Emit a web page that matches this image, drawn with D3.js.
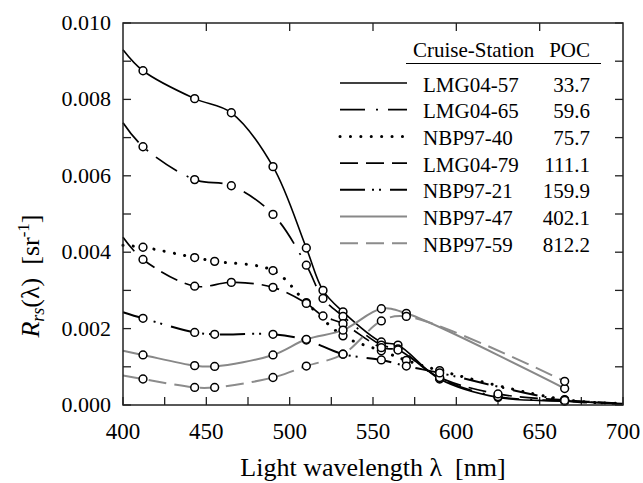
<!DOCTYPE html>
<html><head><meta charset="utf-8">
<script src="https://cdn.jsdelivr.net/npm/d3@7"></script>
<style>
body{margin:0;background:#fff}
</style>
</head><body>
<svg id="chart" width="643" height="483" font-family="'Liberation Serif', 'Times New Roman', Times, serif"></svg>
<script>
// ---------------- DATA ----------------
const stations = ["LMG04-57","LMG04-65","NBP97-40","LMG04-79","NBP97-21","NBP97-47","NBP97-59"];
const poc = ["33.7","59.6","75.7","111.1","159.9","402.1","812.2"];

const wlLMG  = [400,412,443,465,490,510,520,532,555,565,590,625,665,700];
const wlNBP  = [400,412,443,455,490,510,532,555,570,590,665,700];
const wlNBPg = [400,412,443,455,490,510,532,555,570,665];

const rsLMG04_57 = [0.00930,0.00875,0.00802,0.00765,0.00624,0.00411,0.00300,0.00244,0.00165,0.00157,0.00068,0.00020,0.00010,0.00003];
const rsLMG04_65 = [0.00739,0.00676,0.00590,0.00574,0.00499,0.00366,0.00279,0.00232,0.00157,0.00147,0.00070,0.00022,0.00011,0.00003];
const rsLMG04_79 = [0.00439,0.00381,0.00311,0.00321,0.00308,0.00266,0.00233,0.00213,0.00150,0.00144,0.00072,0.00029,0.00013,0.00004];
const rsNBP97_40 = [0.00418,0.00413,0.00386,0.00376,0.00352,0.00268,0.00181,0.00142,0.00117,0.00090,0.00014,0.00004];
const rsNBP97_21 = [0.00243,0.00227,0.00190,0.00185,0.00185,0.00170,0.00133,0.00118,0.00102,0.00084,0.00012,0.00003];
const rsNBP97_47 = [0.00142,0.00131,0.00103,0.00101,0.00131,0.00172,0.00196,0.00252,0.00240,0.00043];
const rsNBP97_59 = [0.00077,0.00068,0.00046,0.00046,0.00072,0.00102,0.00133,0.00220,0.00232,0.00062];

const xTickLabels = [400,450,500,550,600,650,700];
const yTickLabels = [0,0.002,0.004,0.006,0.008,0.010];

// ---------------- STYLES ----------------
const seriesWl = [wlLMG, wlLMG, wlNBP, wlLMG, wlNBP, wlNBPg, wlNBPg];
const seriesVal = [rsLMG04_57, rsLMG04_65, rsNBP97_40, rsLMG04_79, rsNBP97_21, rsNBP97_47, rsNBP97_59];
const styles = [
  {color:"#000", width:1.6, dash:null, cap:"butt"},
  {color:"#000", width:1.7, dash:"25,11,2,10", cap:"butt"},
  {color:"#000", width:3.0, dash:"0.1,10.3", cap:"round"},
  {color:"#000", width:1.7, dash:"18,8", cap:"butt"},
  {color:"#000", width:2.0, dash:"25,7,2,5,2,9", cap:"butt"},
  {color:"#888", width:2.0, dash:null, cap:"butt"},
  {color:"#8c8c8c", width:2.0, dash:"18,8", cap:"butt"}
];
const FONT = "'Liberation Serif', 'Times New Roman', Times, serif";

const W = 643, H = 483;
const m = {left:123, right:20, top:23, bottom:78};
const svg = d3.select("#chart");

const x = d3.scaleLinear().domain([400,700]).range([m.left, W - m.right]);
const y = d3.scaleLinear().domain([0,0.010]).range([H - m.bottom, m.top]);

const tickFont = 22;
const frameColor = "#222";

// ticks (inward)
const tl = 8;
const g = svg.append("g");
d3.range(400, 701, 25).forEach(v => {
  g.append("line").attr("x1", x(v)).attr("x2", x(v)).attr("y1", y(0)).attr("y2", y(0) - tl)
    .attr("stroke", frameColor).attr("stroke-width", 1.3);
});
d3.range(450, 700, 50).forEach(v => {
  g.append("line").attr("x1", x(v)).attr("x2", x(v)).attr("y1", y(0.010)).attr("y2", y(0.010) + tl)
    .attr("stroke", frameColor).attr("stroke-width", 1.3);
});
d3.range(0, 11).forEach(i => {
  const v = i * 0.001;
  g.append("line").attr("x1", x(400)).attr("x2", x(400) + tl).attr("y1", y(v)).attr("y2", y(v))
    .attr("stroke", frameColor).attr("stroke-width", 1.3);
  g.append("line").attr("x1", x(700)).attr("x2", x(700) - tl).attr("y1", y(v)).attr("y2", y(v))
    .attr("stroke", frameColor).attr("stroke-width", 1.3);
});

// tick labels
xTickLabels.forEach(v => {
  svg.append("text").attr("x", x(v)).attr("y", y(0) + 34).attr("text-anchor", "middle")
    .attr("font-family", FONT).attr("font-size", 23).text(v);
});
yTickLabels.forEach(v => {
  svg.append("text").attr("x", x(400) - 12).attr("y", y(v) + 7).attr("text-anchor", "end")
    .attr("font-family", FONT).attr("font-size", tickFont).text(d3.format(".3f")(v));
});

// curves
const line = d3.line().x(d => x(d[0])).y(d => y(d[1])).curve(d3.curveCatmullRom.alpha(0.5));
const plot = svg.append("g");
stations.forEach((s, i) => {
  const pts = seriesWl[i].map((w, j) => [w, seriesVal[i][j]]);
  const st = styles[i];
  plot.append("path").datum(pts).attr("d", line).attr("fill", "none")
    .attr("stroke", st.color).attr("stroke-width", st.width)
    .attr("stroke-dasharray", st.dash).attr("stroke-linecap", st.cap);
});
// markers
stations.forEach((s, i) => {
  const pts = seriesWl[i].map((w, j) => [w, seriesVal[i][j]]).filter(d => d[0] > 400 && d[0] < 700);
  plot.selectAll(null).data(pts).enter().append("circle")
    .attr("cx", d => x(d[0])).attr("cy", d => y(d[1])).attr("r", 3.9)
    .attr("fill", "#fff").attr("stroke", "#000").attr("stroke-width", 1.5);
});

// frame
svg.append("rect").attr("x", x(400)).attr("y", y(0.010)).attr("width", x(700) - x(400))
  .attr("height", y(0) - y(0.010)).attr("fill", "none").attr("stroke", frameColor).attr("stroke-width", 1.5);

// legend
const legFont = 21;
const lg = svg.append("g").attr("font-family", FONT);
lg.append("text").attr("x", 413).attr("y", 57).attr("font-size", legFont).text("Cruise-Station");
lg.append("text").attr("x", 590).attr("y", 57).attr("text-anchor", "end").attr("font-size", legFont).text("POC");
lg.append("line").attr("x1", 406).attr("x2", 601).attr("y1", 63.5).attr("y2", 63.5).attr("stroke", "#000").attr("stroke-width", 1.2);
stations.forEach((s, i) => {
  const by = 91.5 + i * 26.7;
  const st = styles[i];
  lg.append("line").attr("x1", 340).attr("x2", 407).attr("y1", by - 8.5).attr("y2", by - 8.5)
    .attr("stroke", st.color).attr("stroke-width", st.width)
    .attr("stroke-dasharray", st.dash).attr("stroke-linecap", st.cap);
  lg.append("text").attr("x", 423).attr("y", by).attr("font-size", legFont).text(s);
  lg.append("text").attr("x", 590).attr("y", by).attr("text-anchor", "end").attr("font-size", legFont).text(poc[i]);
});

// axis titles
svg.append("text").attr("x", (x(400) + x(700)) / 2).attr("y", 476).attr("text-anchor", "middle")
  .attr("font-family", FONT).attr("font-size", 26).text("Light wavelength \u03BB\u00A0\u00A0[nm]");

const yt = svg.append("text").attr("transform", "translate(39,276) rotate(-90)")
  .attr("text-anchor", "middle").attr("font-family", FONT).attr("font-size", 26);
yt.append("tspan").attr("font-style", "italic").text("R");
yt.append("tspan").attr("font-style", "italic").attr("font-size", 18).attr("dy", 5).text("rs");
yt.append("tspan").attr("dy", -5).text("(\u03BB)\u00A0\u00A0[sr");
yt.append("tspan").attr("font-size", 17).attr("dy", -10).text("-1");
yt.append("tspan").attr("dy", 10).text("]");
</script>
</body></html>
